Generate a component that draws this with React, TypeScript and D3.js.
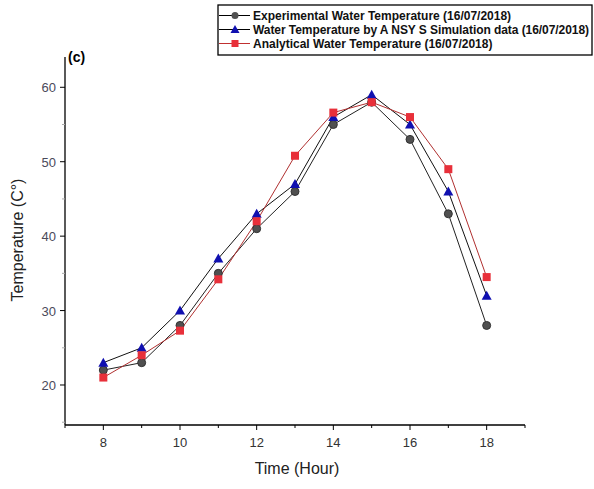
import React from "react";
import * as d3 from "d3";

const hours = [8, 9, 10, 11, 12, 13, 14, 15, 16, 17, 18];
const experimental = [22, 23, 28, 35, 41, 46, 55, 58, 53, 43, 28];
const ansys = [23, 25, 30, 37, 43, 47, 56, 59, 55, 46, 32];
const analytical = [21, 24, 27.3, 34.2, 42, 50.8, 56.6, 58, 56, 49, 34.5];
const xTicks = [8, 10, 12, 14, 16, 18];
const xMinor = [7, 9, 11, 13, 15, 17, 19];
const yTicks = [20, 30, 40, 50, 60];
const yMinor = [15, 25, 35, 45, 55];
const legendLabels = [
  "Experimental Water Temperature (16/07/2018)",
  "Water Temperature by A NSY S Simulation data (16/07/2018)",
  "Analytical Water Temperature (16/07/2018)",
];

const W = 594, H = 489;
const left = 65, right = 525, top = 57, bottom = 425;
const FONT = "'Liberation Sans', Arial, sans-serif";

export default function App() {
  const x = d3.scaleLinear().domain([7, 19]).range([left, right]);
  const y = d3.scaleLinear().domain([14.625, 64.07]).range([bottom, top]);
  const line = d3.line<number>().x((_, i) => x(hours[i])).y((d) => y(d));

  const tri = (cx: number, cy: number, s: number) =>
    `M${cx},${cy - s} L${cx + s},${cy + s * 0.8} L${cx - s},${cy + s * 0.8} Z`;

  return (
    <svg width={W} height={H} style={{ position: "absolute", left: 0, top: 0, background: "#fff" }}>
      {/* axes */}
      <line x1={left} y1={top} x2={left} y2={bottom} stroke="#000" strokeWidth={1.3} />
      <line x1={left} y1={bottom} x2={right} y2={bottom} stroke="#000" strokeWidth={1.3} />
      {xTicks.map((t) => (
        <g key={"xt" + t}>
          <line x1={x(t)} x2={x(t)} y1={bottom} y2={bottom + 5} stroke="#000" />
          <text x={x(t)} y={bottom + 22} textAnchor="middle" fontFamily={FONT} fontSize={13} fill="#333">{t}</text>
        </g>
      ))}
      {xMinor.map((t) => (
        <line key={"xm" + t} x1={x(t)} x2={x(t)} y1={bottom} y2={bottom + 3} stroke="#000" />
      ))}
      {yTicks.map((t) => (
        <g key={"yt" + t}>
          <line x1={left - 5} x2={left} y1={y(t)} y2={y(t)} stroke="#000" />
          <text x={left - 9} y={y(t) + 5} textAnchor="end" fontFamily={FONT} fontSize={13} fill="#4a4a5a">{t}</text>
        </g>
      ))}
      {yMinor.map((t) => (
        <line key={"ym" + t} x1={left - 3} x2={left} y1={y(t)} y2={y(t)} stroke="#aaa" />
      ))}
      <text x={68} y={62} fontFamily={FONT} fontSize={14} fontWeight="bold" fill="#000">(c)</text>
      <text x={297} y={474} textAnchor="middle" fontFamily={FONT} fontSize={16} fill="#222">Time (Hour)</text>
      <text transform={`translate(23,240) rotate(-90)`} textAnchor="middle" fontFamily={FONT} fontSize={16} fill="#222">Temperature (C°)</text>

      {/* lines */}
      <path d={line(experimental) || ""} fill="none" stroke="#222" strokeWidth={1} />
      <path d={line(ansys) || ""} fill="none" stroke="#111" strokeWidth={1} />
      <path d={line(analytical) || ""} fill="none" stroke="#b03030" strokeWidth={1} />

      {/* markers */}
      {experimental.map((v, i) => (
        <circle key={"e" + i} cx={x(hours[i])} cy={y(v)} r={4} fill="#505050" stroke="#333" />
      ))}
      {ansys.map((v, i) => (
        <path key={"a" + i} d={tri(x(hours[i]), y(v), 5)} fill="#1010b0" />
      ))}
      {analytical.map((v, i) => (
        <rect key={"r" + i} x={x(hours[i]) - 4} y={y(v) - 4} width={8} height={8} fill="#e8303a" />
      ))}

      {/* legend */}
      <rect x={218} y={5} width={374} height={50} fill="#fff" stroke="#000" strokeWidth={1.3} />
      {legendLabels.map((lab, i) => {
        const cy = 15.5 + i * 14;
        const color = i === 2 ? "#c03030" : "#000";
        return (
          <g key={"l" + i}>
            <line x1={219} x2={250} y1={cy} y2={cy} stroke={color} strokeWidth={1} />
            {i === 0 && <circle cx={235} cy={cy} r={3.5} fill="#505050" />}
            {i === 1 && <path d={tri(235, cy, 4.5)} fill="#1010b0" />}
            {i === 2 && <rect x={231.5} y={cy - 3.5} width={7} height={7} fill="#e8303a" />}
            <text x={253} y={cy + 4.5} fontFamily={FONT} fontSize={12} fontWeight="bold" fill="#111" textLength={i === 1 ? 336 : undefined}>{lab}</text>
          </g>
        );
      })}
    </svg>
  );
}
